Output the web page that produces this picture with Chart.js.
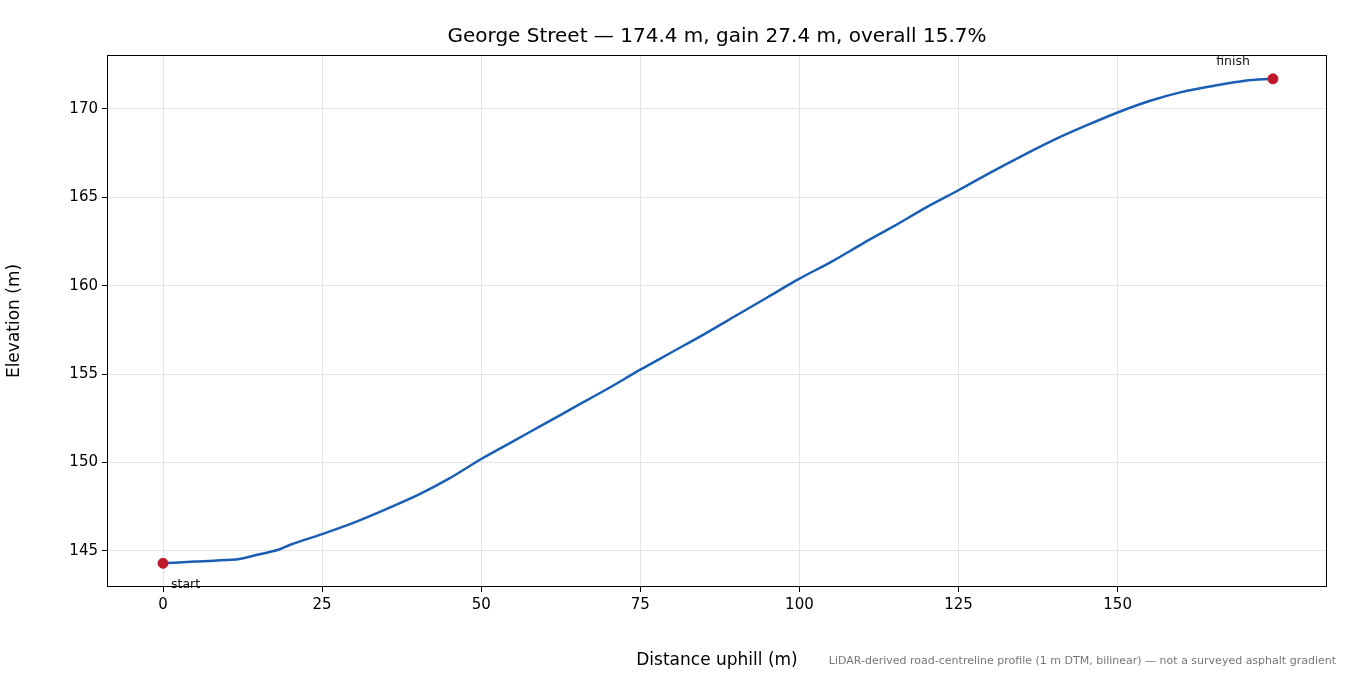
<!DOCTYPE html>
<html><head><meta charset="utf-8">
<script src="https://cdn.jsdelivr.net/npm/chart.js@4"></script>
<style>html,body{margin:0;padding:0;background:#fff}#w{width:1350px;height:675px}</style>
</head><body><div id="w"><canvas id="c"></canvas></div>
<script>
const distance = [0,5,8,12,15,18,20,25,30,35,40,45,50,55,60,65,70,75,80,85,90,95,100,105,110,115,120,125,130,135,140,145,150,155,160,165,170,174.4];
const elevation = [144.3,144.4,144.45,144.55,144.8,145.05,145.35,145.95,146.6,147.35,148.15,149.1,150.2,151.2,152.2,153.2,154.2,155.25,156.25,157.25,158.3,159.35,160.4,161.35,162.4,163.4,164.45,165.4,166.4,167.35,168.25,169.05,169.8,170.45,170.95,171.3,171.6,171.7];
const endpoints = [{x:0,y:144.3,label:'start'},{x:174.4,y:171.7,label:'finish'}];
const titleText = 'George Street — 174.4 m, gain 27.4 m, overall 15.7%';
const noteText = 'LiDAR-derived road-centreline profile (1 m DTM, bilinear) — not a surveyed asphalt gradient';
const F = 'DejaVu Sans';
const deco = {
  id:'deco',
  afterDraw(ch){
    const c=ch.ctx, a=ch.chartArea, xs=ch.scales.x, ys=ch.scales.y;
    c.save();
    c.strokeStyle='#000'; c.lineWidth=1;
    c.strokeRect(a.left+0.5,a.top+0.5,a.right-a.left-1,a.bottom-a.top-1);
    c.fillStyle='#000'; c.font='20px '+F; c.textAlign='center'; c.textBaseline='alphabetic';
    c.fillText(titleText,(a.left+a.right)/2,42);
    c.font='11px '+F; c.fillStyle='#777'; c.textAlign='right';
    c.fillText(noteText,1336,664);
    c.fillStyle='#111'; c.font='12.5px '+F;
    const s=endpoints[0], f=endpoints[1];
    c.textAlign='left'; c.fillText(s.label,xs.getPixelForValue(s.x)+8,ys.getPixelForValue(s.y)+25);
    c.textAlign='right'; c.fillText(f.label,xs.getPixelForValue(f.x)-23,ys.getPixelForValue(f.y)-14);
    c.restore();
  }
};
const filt = step => sc => { sc.ticks = sc.ticks.filter(t => Math.abs(t.value/step - Math.round(t.value/step))<1e-6); };
new Chart(document.getElementById('c'),{
  type:'line',
  data:{datasets:[
    {data:distance.map((d,i)=>({x:d,y:elevation[i]})),borderColor:'#1a5fb4',borderWidth:2.5,pointRadius:0,tension:0.3,order:2},
    {data:endpoints.map(p=>({x:p.x,y:p.y})),showLine:false,pointRadius:5,pointBackgroundColor:'#c0182a',pointBorderColor:'#c0182a',order:1}
  ]},
  options:{
    responsive:true,maintainAspectRatio:false,animation:false,
    layout:{padding:{top:55,right:23,left:0,bottom:0}},
    plugins:{legend:{display:false},tooltip:{enabled:false}},
    scales:{
      x:{type:'linear',min:-8.8,max:182.9,
        ticks:{stepSize:25,color:'#000',font:{family:F,size:15},padding:4,maxRotation:0},
        afterBuildTicks:filt(25),
        grid:{color:'#e3e3e3',tickColor:'#000',tickLength:5},
        border:{display:false},
        title:{display:true,text:'Distance uphill (m)',color:'#000',font:{family:F,size:17},padding:{top:2}},
        afterFit(s){s.height=88;}},
      y:{type:'linear',min:142.96,max:173.05,
        ticks:{stepSize:5,color:'#000',font:{family:F,size:15},padding:4},
        afterBuildTicks:filt(5),
        grid:{color:'#e3e3e3',tickColor:'#000',tickLength:5},
        border:{display:false},
        title:{display:true,text:'Elevation (m)',color:'#000',font:{family:F,size:17},padding:{bottom:6}},
        afterFit(s){s.width=107;}}
    }
  },
  plugins:[deco]
});
</script></body></html>
